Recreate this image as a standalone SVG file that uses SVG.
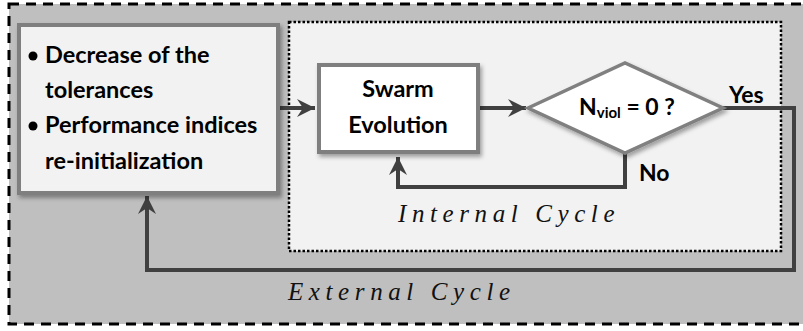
<svg xmlns="http://www.w3.org/2000/svg" width="803" height="331" viewBox="0 0 803 331">
<style>
.b{font-family:Lato,"Open Sans","Liberation Sans",sans-serif;font-weight:bold;fill:#000}
.lb{font-size:23.5px}
.cyc{font-family:"Liberation Serif","DejaVu Serif",serif;font-style:italic;font-size:25px;fill:#111}
.con{fill:none;stroke:#404040;stroke-width:4;stroke-linejoin:miter}
.box{stroke:#7f7f7f;stroke-width:4}
</style>
<defs>
<filter id="sh" x="-10%" y="-10%" width="125%" height="130%">
<feDropShadow dx="2" dy="3" stdDeviation="2" flood-color="#000" flood-opacity="0.35"/>
</filter>
<marker id="ah" markerUnits="userSpaceOnUse" markerWidth="20" markerHeight="20" viewBox="-19 -10 20 20" refX="0" refY="0" orient="auto">
<path d="M0,0 L-18,-9 L-12,0 L-18,9 Z" fill="#404040"/>
</marker>
</defs>
<rect x="9" y="4" width="830" height="320" fill="#bfbfbf" stroke="#000" stroke-width="3" stroke-dasharray="10 7"/>
<g id="internal-region">
<rect x="289" y="22" width="492" height="229" fill="#f2f2f2" stroke="#000" stroke-width="2.5" stroke-dasharray="2.5 2"/>
</g>
<g id="connectors">
<path class="con" d="M280,108 L315,108" marker-end="url(#ah)"/>
<path class="con" d="M480,108 L526,108" marker-end="url(#ah)"/>
<path class="con" d="M625,153 L625,187 L398,187 L398,157" marker-end="url(#ah)"/>
<path class="con" d="M723,108 L794,108 L794,270 L147,270 L147,196" marker-end="url(#ah)"/>
</g>
<g id="update-box">
<rect class="box" x="19" y="25" width="259" height="168" fill="#f2f2f2" filter="url(#sh)"/>
<circle cx="33" cy="56" r="4.5" fill="#000"/>
<circle cx="33" cy="126" r="4.5" fill="#000"/>
<text class="b lb" x="45" y="63">Decrease of the</text>
<text class="b lb" x="45" y="98">tolerances</text>
<text class="b lb" x="45" y="133">Performance indices</text>
<text class="b lb" x="45" y="169">re-initialization</text>
</g>
<g id="swarm-evolution">
<rect class="box" x="319" y="65" width="159" height="87" fill="#fff" stroke-width="3.5" filter="url(#sh)"/>
<text class="b lb" x="398" y="97" text-anchor="middle">Swarm</text>
<text class="b lb" x="398" y="133" text-anchor="middle">Evolution</text>
</g>
<g id="decision">
<polygon points="528,108 625,63 723,108 625,153" fill="#fff" stroke="#808080" stroke-width="3.5" filter="url(#sh)"/>
<text class="b" x="579" y="115" font-size="23">N<tspan font-size="15" dy="3">viol</tspan><tspan dy="-3"> = 0 ?</tspan></text>
</g>
<g id="labels">
<text class="b" x="729" y="103" font-size="23">Yes</text>
<text class="b" x="639" y="181" font-size="23">No</text>
<text class="cyc" x="398" y="222" letter-spacing="5.6">Internal  Cycle</text>
<text class="cyc" x="288" y="300" letter-spacing="5.6">External  Cycle</text>
</g>
</svg>
